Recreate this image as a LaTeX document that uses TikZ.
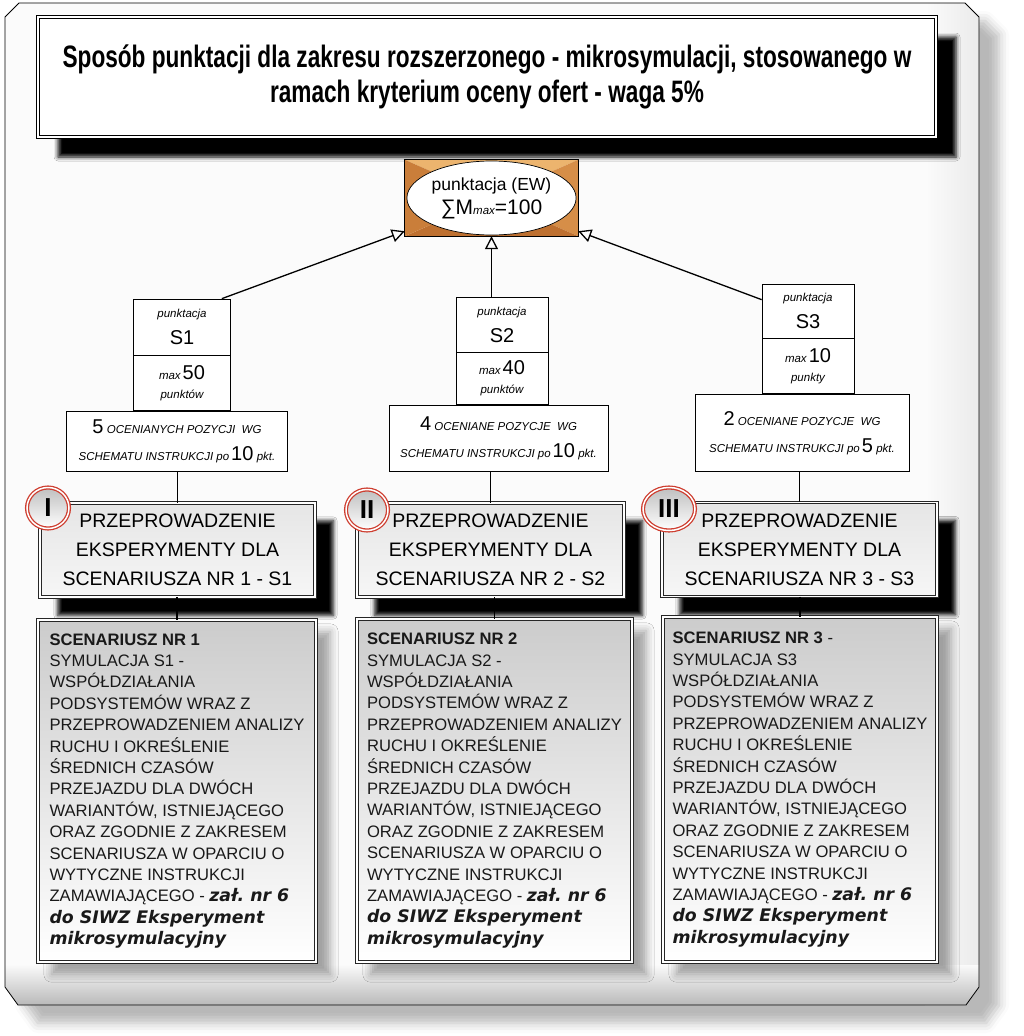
\documentclass[tikz,border=0pt]{standalone}
\usepackage{fontspec}
\setmainfont{Liberation Sans}
\newfontfamily\titlefont[FakeStretch=0.73]{Liberation Sans}
\newfontfamily\tailfont{DejaVu Sans}
\usepackage{tikz}
\usetikzlibrary{arrows.meta,positioning,calc,shapes.geometric,shadows.blur,backgrounds}
\definecolor{bronzetop}{RGB}{236,180,110}
\definecolor{bronzeright}{RGB}{214,142,72}
\definecolor{bronzebottom}{RGB}{190,112,48}
\definecolor{bronzeleft}{RGB}{202,126,58}
\definecolor{badgered}{RGB}{206,62,48}
\newcommand{\smit}[1]{{\fontsize{11.5}{13}\selectfont\itshape #1}}
\newcommand{\bignum}[1]{{\fontsize{20}{20}\selectfont #1}}
\newcommand{\tailtxt}[1]{{\tailfont\bfseries\itshape\fontsize{17.3}{21.4}\selectfont #1}}
\newcommand{\scenariusz}[2]{#1\\#2\\WSPÓŁDZIAŁANIA\\PODSYSTEMÓW WRAZ Z\\PRZEPROWADZENIEM ANALIZY\\RUCHU I OKREŚLENIE\\ŚREDNICH CZASÓW\\PRZEJAZDU DLA DWÓCH\\WARIANTÓW, ISTNIEJĄCEGO\\ORAZ ZGODNIE Z ZAKRESEM\\SCENARIUSZA W OPARCIU O\\WYTYCZNE INSTRUKCJI\\ZAMAWIAJĄCEGO - \tailtxt{zał.\ nr 6}\\\tailtxt{do SIWZ Eksperyment}\\\tailtxt{mikrosymulacyjny}}
\tikzset{titlebox/.style={draw, line width=0.7pt, double=white, double distance=2.6pt, fill=white, align=center, inner sep=0pt, blur shadow={shadow xshift=20pt, shadow yshift=-20pt, shadow blur radius=4pt, shadow opacity=100}}, sbox/.style={draw, line width=0.7pt, fill=white, align=center, inner sep=0pt}, dblframe/.style={postaction={draw=black!85, line width=0.7pt, double=white, double distance=1.8pt}}, headbox/.style={top color=gray!20, bottom color=gray!7, dblframe, align=center, inner sep=0pt, minimum height=94pt, font=\fontsize{19.5}{29}\selectfont}, scenbox/.style={top color=gray!40, bottom color=white, dblframe, align=left, inner sep=0pt, font=\fontsize{16.6}{21.4}\selectfont, text=black!90}, blackshadow/.style={fill=white, blur shadow={shadow xshift=18pt, shadow yshift=-18pt, shadow blur radius=4pt, shadow opacity=100}}, greyshadow/.style={fill=white, blur shadow={shadow xshift=14pt, shadow yshift=-12pt, shadow blur radius=8pt, shadow opacity=35}}, badge/.style={ellipse, draw=badgered, line width=1.3pt, double=white, double distance=1.5pt, top color=gray!50, bottom color=white, minimum width=42pt, minimum height=41pt, inner sep=0pt, font=\fontsize{26}{26}\selectfont\bfseries}, edge/.style={-{Triangle[open, length=13pt, width=13pt]}, line width=1.3pt}, link/.style={line width=1.2pt}}
\begin{document}
\begin{tikzpicture}[x=1pt, y=-1pt, >=Latex]
\useasboundingbox (0,0) rectangle (1024,1036);
\node[titlebox, minimum width=898pt, minimum height=120pt, font=\titlefont\bfseries\fontsize{31}{35}\selectfont] (title) at (487,77) {Sposób punktacji dla zakresu rozszerzonego - mikrosymulacji, stosowanego w\\ramach kryterium oceny ofert - waga 5\%};
\node[minimum width=173pt, minimum height=76pt, inner sep=0pt] (ew) at (491.5,198) {};
\fill[bronzetop] (ew.north west) -- (ew.north east) -- (ew.center) -- cycle;
\fill[bronzeright] (ew.north east) -- (ew.south east) -- (ew.center) -- cycle;
\fill[bronzebottom] (ew.south east) -- (ew.south west) -- (ew.center) -- cycle;
\fill[bronzeleft] (ew.south west) -- (ew.north west) -- (ew.center) -- cycle;
\draw[line width=0.7pt] (ew.north west) rectangle (ew.south east);
\node[ellipse, draw, line width=0.7pt, fill=white, minimum width=168pt, minimum height=74pt, inner sep=0pt, align=center, font=\fontsize{17.5}{24}\selectfont] (ewtext) at (ew.center) {punktacja (EW)\\{\fontsize{21}{21}\selectfont ∑M}\smit{max}{\fontsize{21}{21}\selectfont =100}};
\node[sbox, minimum width=97pt, minimum height=56pt, font=\fontsize{12}{27}\selectfont] (s1top) at (182,327) {\smit{punktacja}\\\bignum{S1}};
\node[sbox, below=0pt of s1top, minimum width=97pt, minimum height=55pt, font=\fontsize{12}{19}\selectfont] (s1bot) {\smit{max}\,\bignum{50}\\\smit{punktów}};
\node[sbox, below=0pt of s1bot, xshift=-5pt, minimum width=221pt, minimum height=60pt, font=\fontsize{12}{27}\selectfont] (s1wide) {\bignum{5}\ \smit{OCENIANYCH POZYCJI\ \ WG}\\\smit{SCHEMATU INSTRUKCJI po}\,\bignum{10}\ \smit{pkt.}};
\node[sbox, minimum width=92pt, minimum height=55pt, font=\fontsize{12}{27}\selectfont] (s2top) at (502,324.5) {\smit{punktacja}\\\bignum{S2}};
\node[sbox, below=0pt of s2top, minimum width=92pt, minimum height=52pt, font=\fontsize{12}{19}\selectfont] (s2bot) {\smit{max}\,\bignum{40}\\\smit{punktów}};
\node[sbox, below=0pt of s2bot, xshift=-3.5pt, minimum width=219pt, minimum height=66pt, font=\fontsize{12}{27}\selectfont] (s2wide) {\bignum{4}\ \smit{OCENIANE POZYCJE\ \ WG}\\\smit{SCHEMATU INSTRUKCJI po}\,\bignum{10}\ \smit{pkt.}};
\node[sbox, minimum width=92pt, minimum height=54pt, font=\fontsize{12}{27}\selectfont] (s3top) at (808,311) {\smit{punktacja}\\\bignum{S3}};
\node[sbox, below=0pt of s3top, minimum width=92pt, minimum height=55pt, font=\fontsize{12}{19}\selectfont] (s3bot) {\smit{max}\,\bignum{10}\\\smit{punkty}};
\node[sbox, below=0pt of s3bot, xshift=-6pt, minimum width=214pt, minimum height=77pt, font=\fontsize{12}{27}\selectfont] (s3wide) {\bignum{2}\ \smit{OCENIANE POZYCJE\ \ WG}\\\smit{SCHEMATU INSTRUKCJI po}\,\bignum{5}\ \smit{pkt.}};
\draw[edge] ([xshift=-9pt]s1top.north east) -- ([yshift=5pt]ew.south west);
\draw[edge] (ew.south |- s2top.north) -- (ew.south);
\draw[edge] ([yshift=-16pt]s3top.north west) -- ([yshift=5pt]ew.south east);
\node[headbox, minimum width=275pt] (s1head) at (177.5,550) {PRZEPROWADZENIE\\EKSPERYMENTY DLA\\SCENARIUSZA NR 1 - S1};
\node[headbox, minimum width=267pt] (s2head) at (490.5,550) {PRZEPROWADZENIE\\EKSPERYMENTY DLA\\SCENARIUSZA NR 2 - S2};
\node[headbox, minimum width=275pt] (s3head) at (799.5,549.5) {PRZEPROWADZENIE\\EKSPERYMENTY DLA\\SCENARIUSZA NR 3 - S3};
\node[scenbox, minimum width=278pt, minimum height=342pt] (s1scen) at (177,791) {\scenariusz{\textbf{SCENARIUSZ NR 1}}{SYMULACJA S1 -}};
\node[scenbox, minimum width=275pt, minimum height=343pt] (s2scen) at (494.5,790.5) {\scenariusz{\textbf{SCENARIUSZ NR 2}}{SYMULACJA S2 -}};
\node[scenbox, minimum width=274pt, minimum height=345pt] (s3scen) at (800,789.5) {\scenariusz{\textbf{SCENARIUSZ NR 3} -}{SYMULACJA S3}};
\draw[link] (s1head.north |- s1wide.south) -- (s1head.north);
\draw[link] (s2head.north |- s2wide.south) -- (s2head.north);
\draw[link] (s3head.north |- s3wide.south) -- (s3head.north);
\draw[link] (s1scen.north |- s1head.south) -- (s1scen.north);
\draw[link] (s2scen.north |- s2head.south) -- (s2scen.north);
\draw[link] (s3scen.north |- s3head.south) -- (s3scen.north);
\node[badge] (b1) at (48,508) {I};
\node[badge] (b2) at (367,510) {II};
\node[badge, minimum width=52pt, minimum height=43pt] (b3) at (669,509) {III};
\begin{scope}[on background layer]
\path[fill=gray!3, blur shadow={shadow xshift=20pt, shadow yshift=-18pt, shadow blur radius=10pt, shadow opacity=28}] (5,17) -- (19,3) -- (965,3) -- (979,17) -- (979,987) -- (966,1005) -- (18,1005) -- (5,987) -- cycle;
\begin{scope}
\clip (5,17) -- (19,3) -- (965,3) -- (979,17) -- (979,987) -- (966,1005) -- (18,1005) -- (5,987) -- cycle;
\shade[left color=gray!3, right color=gray!16] (925,0) rectangle (979,1005);
\shade[top color=gray!4, bottom color=gray!55] (0,965) rectangle (990,1005);
\end{scope}
\draw[line width=0.8pt] (5,17) -- (19,3) -- (965,3) -- (979,17) -- (979,987) -- (966,1005) -- (18,1005) -- (5,987) -- cycle;
\foreach \n in {s1scen,s2scen,s3scen}
  \path[greyshadow] (\n.north west) rectangle (\n.south east);
\foreach \n in {s1head,s2head,s3head}
  \path[blackshadow] (\n.north west) rectangle (\n.south east);
\end{scope}
\end{tikzpicture}
\end{document}
